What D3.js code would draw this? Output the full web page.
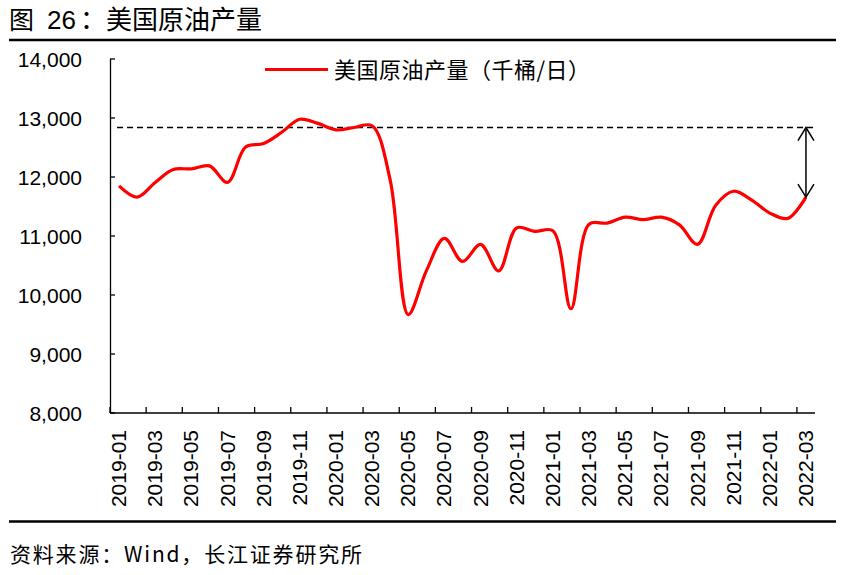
<!DOCTYPE html>
<html><head><meta charset="utf-8">
<script src="https://cdn.jsdelivr.net/npm/d3@7"></script>
<style>
body{margin:0;background:#fff;}
svg text{fill:#000;}
</style></head>
<body>
<svg id="c" width="843" height="575"></svg>
<script>
const months = ["2019-01","2019-02","2019-03","2019-04","2019-05","2019-06","2019-07","2019-08","2019-09","2019-10","2019-11","2019-12",
"2020-01","2020-02","2020-03","2020-04","2020-05","2020-06","2020-07","2020-08","2020-09","2020-10","2020-11","2020-12",
"2021-01","2021-02","2021-03","2021-04","2021-05","2021-06","2021-07","2021-08","2021-09","2021-10","2021-11","2021-12",
"2022-01","2022-02","2022-03"];
const production = [11840,11650,11900,12120,12130,12180,11900,12500,12560,12750,12970,12900,
12790,12830,12860,11940,9660,10400,10950,10560,10850,10400,11130,11070,
11080,9760,11190,11210,11310,11270,11310,11180,10850,11510,11750,11600,
11380,11290,11650];
const yTicks = [8000,9000,10000,11000,12000,13000,14000];
const refLevel = 12830;
const seriesName = "美国原油产量（千桶/日）";
const titleParts = ["图", "26", "：美国原油产量"];
const sourceText = "资料来源：Wind，长江证券研究所";

const svg = d3.select("#c");
const cjk = "'Noto Sans CJK SC', 'Liberation Sans', sans-serif";
const lat = "'Liberation Sans', Arial, sans-serif";

const x = d3.scaleBand().domain(months).range([110, 815]).padding(0);
const y = d3.scaleLinear().domain([8000, 14000]).range([412.5, 58.5]);
const cx = m => x(m) + x.bandwidth() / 2;

// title & rules
const tt = svg.append("text").attr("y", 29).attr("font-family", cjk).attr("font-size", 25);
tt.append("tspan").attr("x", 9).text(titleParts[0]);
tt.append("tspan").attr("x", 47).attr("font-family", lat).attr("font-size", 26).text(titleParts[1]);
tt.append("tspan").attr("x", 80).attr("font-size", 26).text(titleParts[2]);
svg.append("line").attr("x1", 9).attr("x2", 836).attr("y1", 40).attr("y2", 40).attr("stroke", "#000").attr("stroke-width", 2.5);
svg.append("line").attr("x1", 9).attr("x2", 836).attr("y1", 521.5).attr("y2", 521.5).attr("stroke", "#000").attr("stroke-width", 2.5);
svg.append("text").attr("x", 10).attr("y", 562).attr("font-family", cjk).attr("font-size", 21)
  .attr("textLength", 352).attr("lengthAdjust", "spacing").text(sourceText);

// y axis
const yAxis = d3.axisLeft(y).tickValues(yTicks).tickSizeInner(-5).tickSizeOuter(0).tickPadding(28).tickFormat(d3.format(","));
const gy = svg.append("g").attr("transform", "translate(110,0)").call(yAxis);
gy.select(".domain").attr("stroke", "#000").attr("stroke-width", 1.3);
gy.selectAll(".tick line").attr("stroke", "#000").attr("stroke-width", 1.3);
gy.selectAll(".tick text").attr("font-family", lat).attr("font-size", 21).attr("dy", "0.36em");

// x axis
const tickMonths = months.filter((m, i) => i % 2 === 0);
const gx = svg.append("g").attr("transform", "translate(0,413)");
gx.append("line").attr("x1", 110).attr("x2", 815).attr("y1", 0).attr("y2", 0).attr("stroke", "#000").attr("stroke-width", 1.3);
gx.selectAll("line.tk").data(tickMonths).join("line").attr("class", "tk")
  .attr("x1", d => x(d)).attr("x2", d => x(d)).attr("y1", 0).attr("y2", -6)
  .attr("stroke", "#000").attr("stroke-width", 1.3);
gx.selectAll("text").data(tickMonths).join("text")
  .attr("transform", d => `translate(${cx(d) + 7},17) rotate(-90)`)
  .attr("text-anchor", "end").attr("font-family", lat).attr("font-size", 21).text(d => d);

// reference dashed line
svg.append("line").attr("x1", 117).attr("x2", 816).attr("y1", y(refLevel)).attr("y2", y(refLevel))
  .attr("stroke", "#000").attr("stroke-width", 1.5).attr("stroke-dasharray", "6,4");

// data line
const line = d3.line().x((d, i) => cx(months[i])).y(d => y(d)).curve(d3.curveCatmullRom.alpha(0.5));
svg.append("path").datum(production).attr("d", line).attr("fill", "none").attr("stroke", "#ff0000").attr("stroke-width", 3.2).attr("stroke-linejoin", "round");

// arrow
const last = months[months.length - 1];
const ax = cx(last), ay1 = y(refLevel), ay2 = y(production[production.length - 1]);
const ga = svg.append("g").attr("stroke", "#000").attr("stroke-width", 1.5).attr("fill", "none");
ga.append("line").attr("x1", ax).attr("x2", ax).attr("y1", ay1).attr("y2", ay2);
ga.append("path").attr("d", `M${ax - 8},${ay1 + 13}L${ax},${ay1}L${ax + 8},${ay1 + 13}`);
ga.append("path").attr("d", `M${ax - 8},${ay2 - 13}L${ax},${ay2}L${ax + 8},${ay2 - 13}`);

// legend
svg.append("line").attr("x1", 265).attr("x2", 328).attr("y1", 69.5).attr("y2", 69.5).attr("stroke", "#ff0000").attr("stroke-width", 3.2);
svg.append("text").attr("x", 334).attr("y", 77.5).attr("font-family", cjk).attr("font-size", 22)
  .attr("textLength", 256).attr("lengthAdjust", "spacing").text(seriesName);
</script>
</body></html>
